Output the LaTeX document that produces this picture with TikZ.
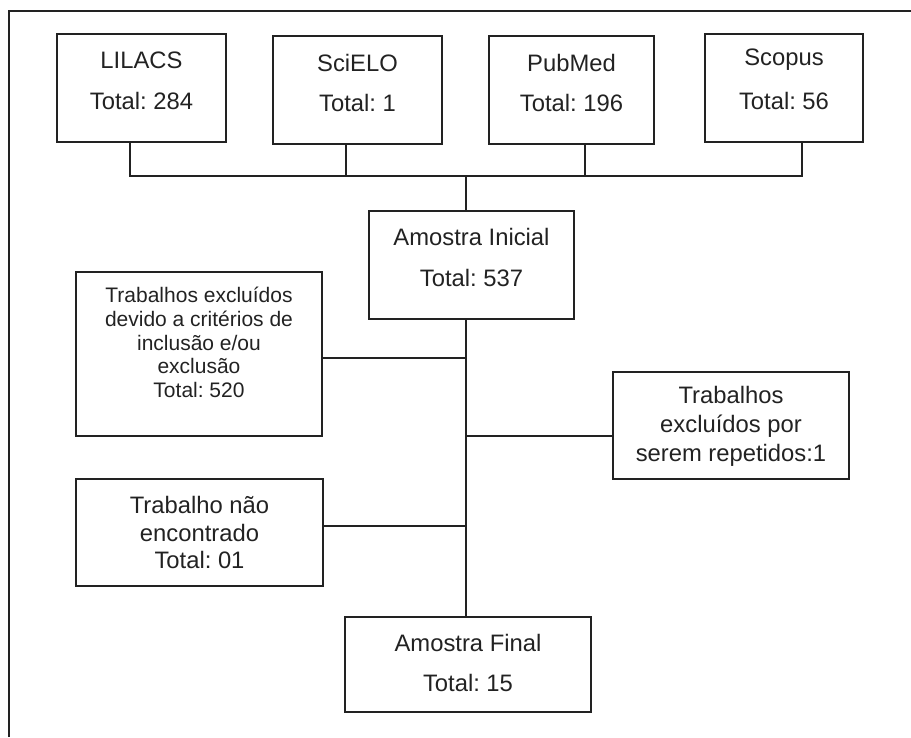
\documentclass[tikz,border=0pt]{standalone}
\usepackage{fontspec}
\setmainfont{Liberation Sans}
\frenchspacing
\definecolor{ink}{HTML}{222222}
\begin{document}
\begin{tikzpicture}[x=1pt,y=-1pt,
  box/.style={draw=ink,line width=1.1pt,rectangle,inner sep=0pt},
  txt/.style={text=ink,inner sep=0pt,font=\fontsize{23.8}{28}\selectfont,align=center},
  small/.style={text=ink,inner sep=0pt,font=\fontsize{21}{23.8}\selectfont,align=center},
  wire/.style={draw=ink,line width=1.1pt}]
\useasboundingbox (0,0) rectangle (911,737);
% frame (top and left only)
\draw[wire] (9,737) -- (9,11) -- (911,11);
% source boxes
\node[box,minimum width=169,minimum height=108] (lilacs) at (141.5,88) {};
\node[box,minimum width=169,minimum height=108] (scielo) at (357.5,90) {};
\node[box,minimum width=165,minimum height=108] (pubmed) at (571.5,90) {};
\node[box,minimum width=158,minimum height=108] (scopus) at (784,88) {};
\node[txt] (lilacs1) at (141.5,60) {LILACS};
\node[txt] (lilacs2) at (141.5,101) {Total: 284};
\node[txt] (scielo1) at (357.5,63) {SciELO};
\node[txt] (scielo2) at (357.5,103) {Total: 1};
\node[txt] (pubmed1) at (571.5,63) {PubMed};
\node[txt] (pubmed2) at (571.5,103) {Total: 196};
\node[txt] (scopus1) at (784,60) {Scopus};
\node[txt] (scopus2) at (784,101) {Total: 56};
% initial sample
\node[box,minimum width=205,minimum height=108] (ini) at (471.5,265) {};
\node[txt] (ini1) at (471.5,237) {Amostra Inicial};
\node[txt] (ini2) at (471.5,278) {Total: 537};
% excluded by criteria
\node[box,minimum width=246,minimum height=164] (excl) at (199,354) {};
\node[small] (excl1) at (199,342.5) {Trabalhos excluídos\\devido a critérios de\\inclusão e/ou\\exclusão\\Total: 520};
% repeated
\node[box,minimum width=236,minimum height=107] (rep) at (731,425.5) {};
\node[txt,font=\fontsize{23.8}{29}\selectfont] (rep1) at (731,426) {Trabalhos\\excluídos por\\serem repetidos:1};
% not found
\node[box,minimum width=247,minimum height=107] (nf) at (199.5,532.5) {};
\node[txt,font=\fontsize{23.8}{27.5}\selectfont] (nf1) at (199.5,532.5) {Trabalho não\\encontrado\\Total: 01};
% final sample
\node[box,minimum width=246,minimum height=95] (fin) at (468,664.5) {};
\node[txt] (fin1) at (468,643) {Amostra Final};
\node[txt] (fin2) at (468,683) {Total: 15};
% bus coordinates
\coordinate (b1) at (130,176);
\coordinate (b2) at (346,176);
\coordinate (b3) at (585,176);
\coordinate (b4) at (802,176);
\coordinate (bm) at (466,176);
\coordinate (s1) at (466,358);
\coordinate (s2) at (466,436);
\coordinate (s3) at (466,526);
% connectors
\draw[wire] (b1 |- lilacs.south) -- (b1) -- (b4) -- (b4 |- scopus.south);
\draw[wire] (b2 |- scielo.south) -- (b2);
\draw[wire] (b3 |- pubmed.south) -- (b3);
\draw[wire] (bm) -- (bm |- ini.north);
\draw[wire] (bm |- ini.south) -- (bm |- fin.north);
\draw[wire] (excl.east |- s1) -- (s1);
\draw[wire] (s2) -- (rep.west |- s2);
\draw[wire] (nf.east |- s3) -- (s3);
\end{tikzpicture}
\end{document}
